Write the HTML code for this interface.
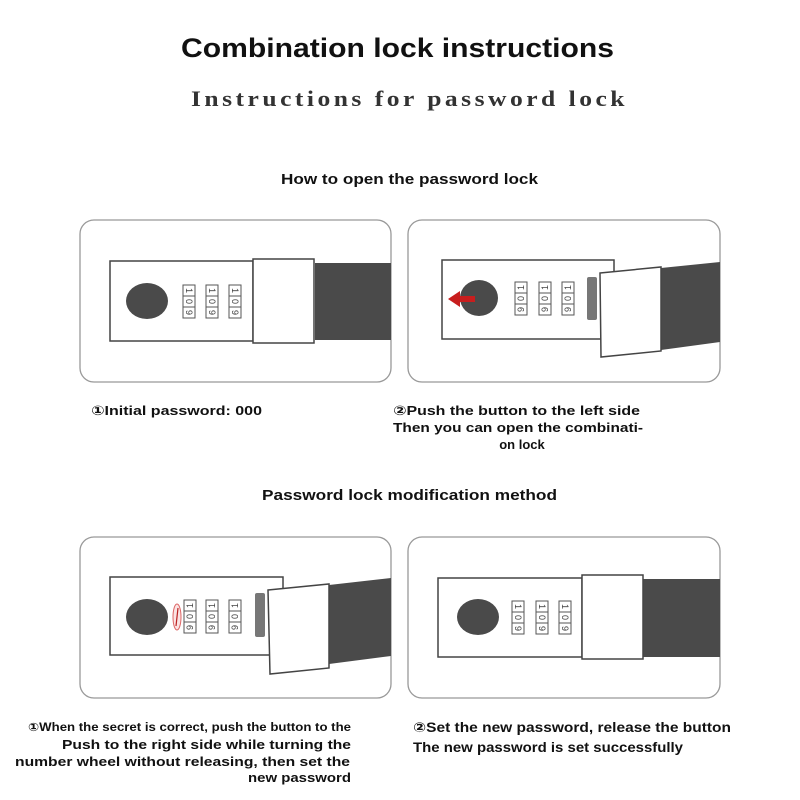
<!DOCTYPE html>
<html><head><meta charset="utf-8"><style>html,body{margin:0;padding:0;background:#fff}svg{display:block}</style></head><body>
<svg width="800" height="800" viewBox="0 0 800 800" xmlns="http://www.w3.org/2000/svg" font-family="Liberation Sans, DejaVu Sans, sans-serif">
<defs>
<g id="wheel">
<rect x="0" y="0" width="12" height="33" fill="#fff" stroke="#555" stroke-width="1"/>
<line x1="0" y1="11" x2="12" y2="11" stroke="#555"/>
<line x1="0" y1="22" x2="12" y2="22" stroke="#555"/>
<text transform="translate(3,5.5) rotate(90)" font-size="9" fill="#444" text-anchor="middle">1</text>
<text transform="translate(3,16.5) rotate(90)" font-size="9" fill="#444" text-anchor="middle">0</text>
<text transform="translate(3,27.5) rotate(90)" font-size="9" fill="#444" text-anchor="middle">9</text>
</g>
<g id="wheelr">
<rect x="0" y="0" width="12" height="33" fill="#fff" stroke="#555" stroke-width="1"/>
<line x1="0" y1="11" x2="12" y2="11" stroke="#555"/>
<line x1="0" y1="22" x2="12" y2="22" stroke="#555"/>
<text transform="translate(9,5.5) rotate(-90)" font-size="9" fill="#444" text-anchor="middle">1</text>
<text transform="translate(9,16.5) rotate(-90)" font-size="9" fill="#444" text-anchor="middle">0</text>
<text transform="translate(9,27.5) rotate(-90)" font-size="9" fill="#444" text-anchor="middle">9</text>
</g>
</defs>
<g font-weight="bold" fill="#111">
<text x="181" y="57" font-size="27" textLength="433" lengthAdjust="spacingAndGlyphs">Combination lock instructions</text>
<text x="191" y="106" font-size="22" letter-spacing="3" font-family="Liberation Serif, serif" fill="#333" textLength="437" lengthAdjust="spacingAndGlyphs">Instructions for password lock</text>
<text x="281" y="184" font-size="14.5" textLength="257" lengthAdjust="spacingAndGlyphs">How to open the password lock</text>
<text x="262" y="500" font-size="14.5" textLength="295" lengthAdjust="spacingAndGlyphs">Password lock modification method</text>
</g>
<g fill="#fff" stroke="#999" stroke-width="1.3">
<rect x="80" y="220" width="311" height="162" rx="14"/>
<rect x="408" y="220" width="312" height="162" rx="14"/>
<rect x="80" y="537" width="311" height="161" rx="14"/>
<rect x="408" y="537" width="312" height="161" rx="14"/>
</g>
<rect x="315" y="263" width="76" height="77" fill="#4a4a4a"/>
<rect x="110" y="261" width="143" height="80" fill="#fff" stroke="#444" stroke-width="1.5"/>
<rect x="253" y="259" width="61" height="84" fill="#fff" stroke="#444" stroke-width="1.5"/>
<ellipse cx="147" cy="301" rx="21" ry="18" fill="#4a4a4a"/>
<use href="#wheel" x="183" y="285"/><use href="#wheel" x="206" y="285"/><use href="#wheel" x="229" y="285"/>
<polygon points="661,268 720,262 720,342 661,350" fill="#4a4a4a"/>
<rect x="442" y="260" width="172" height="79" fill="#fff" stroke="#444" stroke-width="1.5"/>
<ellipse cx="479" cy="298" rx="19" ry="18" fill="#4a4a4a"/>
<polygon points="448,299 460,291 460,296 475,296 475,302 460,302 460,307" fill="#c81e1e"/>
<use href="#wheelr" x="515" y="282"/><use href="#wheelr" x="539" y="282"/><use href="#wheelr" x="562" y="282"/>
<rect x="587" y="277" width="10" height="43" rx="2" fill="#777"/>
<polygon points="600,273 661,267 661,351 601,357" fill="#fff" stroke="#444" stroke-width="1.5"/>
<polygon points="329,585 391,578 391,656 329,664" fill="#4a4a4a"/>
<rect x="110" y="577" width="173" height="78" fill="#fff" stroke="#444" stroke-width="1.5"/>
<ellipse cx="147" cy="617" rx="21" ry="18" fill="#4a4a4a"/>
<ellipse cx="177" cy="617" rx="4" ry="13" fill="#fbe3e3" stroke="#d66" stroke-width="1"/>
<line x1="178" y1="608" x2="176" y2="626" stroke="#b22" stroke-width="1.2"/>
<use href="#wheelr" x="184" y="600"/><use href="#wheelr" x="206" y="600"/><use href="#wheelr" x="229" y="600"/>
<rect x="255" y="593" width="10" height="44" rx="2" fill="#777"/>
<polygon points="268,590 329,584 329,668 270,674" fill="#fff" stroke="#444" stroke-width="1.5"/>
<rect x="643" y="579" width="77" height="78" fill="#4a4a4a"/>
<rect x="438" y="578" width="144" height="79" fill="#fff" stroke="#444" stroke-width="1.5"/>
<rect x="582" y="575" width="61" height="84" fill="#fff" stroke="#444" stroke-width="1.5"/>
<ellipse cx="478" cy="617" rx="21" ry="18" fill="#4a4a4a"/>
<use href="#wheel" x="512" y="601"/><use href="#wheel" x="536" y="601"/><use href="#wheel" x="559" y="601"/>
<g font-weight="bold" fill="#111" font-size="13">
<text x="91" y="415" textLength="171" lengthAdjust="spacingAndGlyphs">①Initial password: 000</text>
<text x="393" y="415" textLength="247" lengthAdjust="spacingAndGlyphs">②Push the button to the left side</text>
<text x="393" y="432" textLength="250" lengthAdjust="spacingAndGlyphs">Then you can open the combinati-</text>
<text x="522" y="449" text-anchor="middle">on lock</text>
<text x="28" y="731" font-size="11.5" textLength="323" lengthAdjust="spacingAndGlyphs">①When the secret is correct, push the button to the</text>
<text x="62" y="749" textLength="289" lengthAdjust="spacingAndGlyphs">Push to the right side while turning the</text>
<text x="15" y="766" textLength="335" lengthAdjust="spacingAndGlyphs">number wheel without releasing, then set the</text>
<text x="248" y="782" textLength="103" lengthAdjust="spacingAndGlyphs">new password</text>
<text x="413" y="732" font-size="13.5" textLength="318" lengthAdjust="spacingAndGlyphs">②Set the new password, release the button</text>
<text x="413" y="752" font-size="13.5" textLength="270" lengthAdjust="spacingAndGlyphs">The new password is set successfully</text>
</g>
</svg>
</body></html>
